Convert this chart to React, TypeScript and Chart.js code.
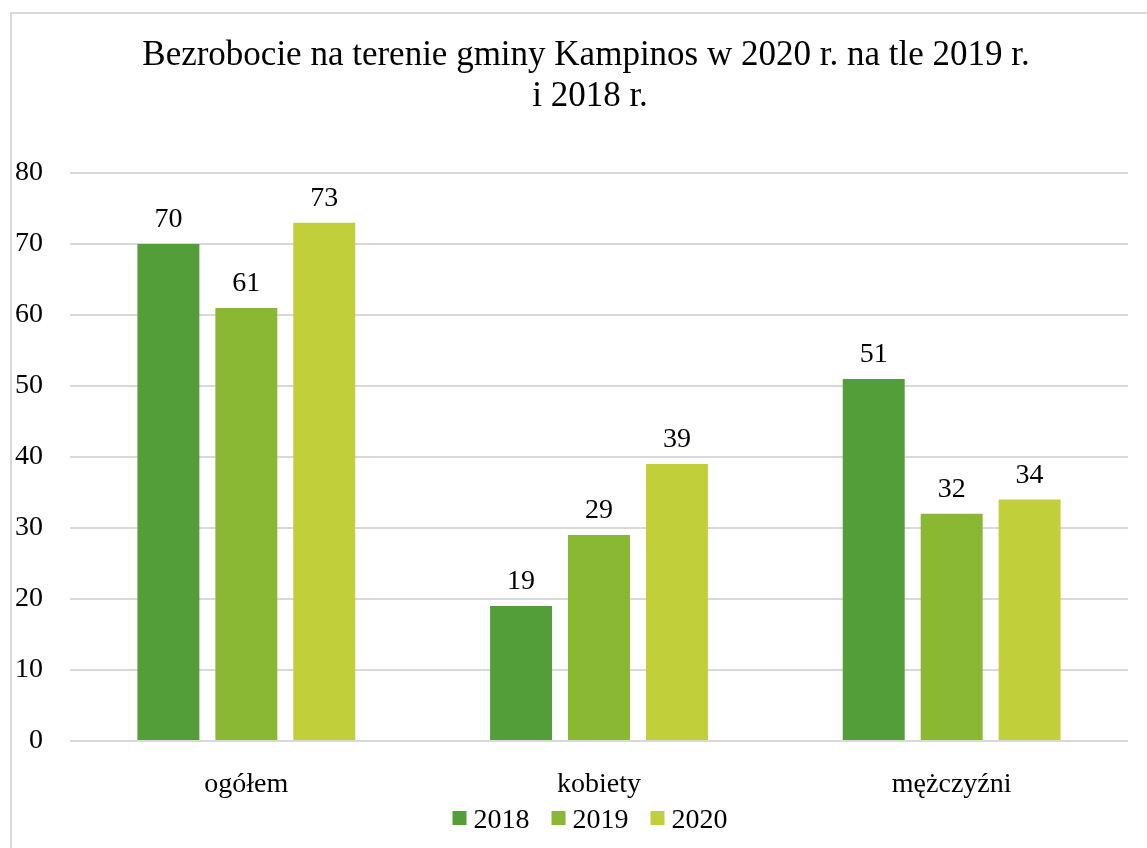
import { useEffect, useRef } from "react";
import { Chart, registerables } from "chart.js";

Chart.register(...registerables);

const categories = ["ogółem", "kobiety", "mężczyźni"];
const seriesLabels = ["2018", "2019", "2020"];
const values2018 = [70, 19, 51];
const values2019 = [61, 29, 32];
const values2020 = [73, 39, 34];
const seriesColors = ["#549E39", "#8AB833", "#C0CF3A"];
const titleLines = [
  "Bezrobocie na terenie gminy Kampinos w 2020 r. na tle 2019 r.",
  "i 2018 r.",
];
const yMin = 0;
const yMax = 80;
const yStep = 10;

const FONT = '"Liberation Serif", "Times New Roman", serif';

const titlePlugin = {
  id: "customTitle",
  afterDraw(chart: any) {
    const ctx = chart.ctx;
    ctx.save();
    ctx.fillStyle = "#000";
    ctx.font = `35px ${FONT}`;
    ctx.textAlign = "center";
    ctx.textBaseline = "alphabetic";
    ctx.fillText(titleLines[0], 586, 65);
    ctx.fillText(titleLines[1], 590, 106);
    ctx.restore();
  },
};

const valueLabelPlugin = {
  id: "valueLabels",
  afterDatasetsDraw(chart: any) {
    const ctx = chart.ctx;
    ctx.save();
    ctx.fillStyle = "#000";
    ctx.font = `28px ${FONT}`;
    ctx.textAlign = "center";
    ctx.textBaseline = "alphabetic";
    chart.data.datasets.forEach((ds: any, i: number) => {
      const meta = chart.getDatasetMeta(i);
      meta.data.forEach((el: any, j: number) => {
        ctx.fillText(String(ds.data[j]), el.x, el.y - 17);
      });
    });
    ctx.restore();
  },
};

const legendPlugin = {
  id: "customLegend",
  afterDraw(chart: any) {
    const ctx = chart.ctx;
    ctx.save();
    ctx.font = `28px ${FONT}`;
    const box = 14;
    const gapBoxText = 7;
    const itemGap = 22;
    const widths = chart.data.datasets.map((ds: any) => ctx.measureText(ds.label).width);
    const total =
      widths.reduce((a: number, w: number) => a + box + gapBoxText + w, 0) +
      itemGap * (widths.length - 1);
    let x = 590 - total / 2;
    const baseline = 828;
    chart.data.datasets.forEach((ds: any, i: number) => {
      ctx.fillStyle = ds.backgroundColor;
      ctx.fillRect(x, 811, box, box);
      ctx.fillStyle = "#000";
      ctx.textAlign = "left";
      ctx.textBaseline = "alphabetic";
      ctx.fillText(ds.label, x + box + gapBoxText, baseline);
      x += box + gapBoxText + widths[i] + itemGap;
    });
    ctx.restore();
  },
};

export default function App() {
  const canvasRef = useRef<HTMLCanvasElement | null>(null);

  useEffect(() => {
    if (!canvasRef.current) return;
    const seriesValues = [values2018, values2019, values2020];
    const chart = new Chart(canvasRef.current, {
      type: "bar",
      data: {
        labels: categories,
        datasets: seriesLabels.map((label, i) => ({
          label,
          data: seriesValues[i],
          backgroundColor: seriesColors[i],
          borderWidth: 0,
          categoryPercentage: 0.663,
          barPercentage: 0.795,
        })),
      },
      options: {
        responsive: false,
        animation: false,
        devicePixelRatio: 1,
        layout: { padding: { left: 13, right: 19, top: 173, bottom: 0 } },
        plugins: {
          legend: { display: false },
          title: { display: false },
          tooltip: { enabled: false },
        },
        scales: {
          x: {
            grid: { display: false },
            border: { display: false },
            ticks: {
              color: "#000",
              font: { family: FONT, size: 28 },
              padding: 19,
              maxRotation: 0,
            },
            afterFit(scale: any) {
              scale.height = 107;
            },
          },
          y: {
            min: yMin,
            max: yMax,
            grid: {
              color: "#d9d9d9",
              lineWidth: 2,
              drawTicks: false,
            },
            border: { display: false },
            ticks: {
              stepSize: yStep,
              color: "#000",
              font: { family: FONT, size: 28 },
              padding: 27,
            },
            afterFit(scale: any) {
              scale.width = 57;
            },
          },
        },
      },
      plugins: [titlePlugin, valueLabelPlugin, legendPlugin],
    });
    return () => chart.destroy();
  }, []);

  return (
    <div
      style={{
        position: "fixed",
        left: 0,
        top: 0,
        width: 1147,
        height: 848,
        overflow: "hidden",
        background: "#fff",
      }}
    >
      <div
        style={{
          position: "absolute",
          left: 10,
          top: 12,
          width: 1200,
          height: 900,
          borderLeft: "2px solid #d9d9d9",
          borderTop: "2px solid #d9d9d9",
        }}
      />
      <canvas
        ref={canvasRef}
        width={1147}
        height={848}
        style={{ position: "absolute", left: 0, top: 0, width: 1147, height: 848 }}
      />
    </div>
  );
}
